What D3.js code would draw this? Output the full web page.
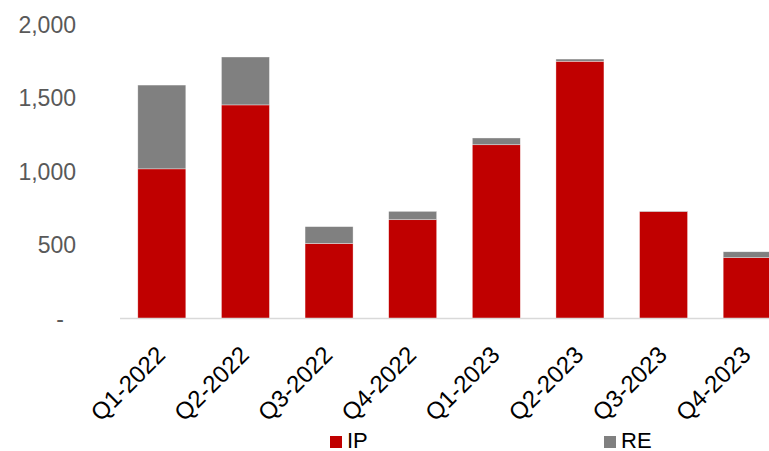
<!DOCTYPE html>
<html><head><meta charset="utf-8">
<script src="https://cdn.jsdelivr.net/npm/d3@7"></script>
<style>
html,body{margin:0;padding:0;background:#fff;overflow:hidden}
svg{display:block}
text{font-family:"Liberation Sans",Arial,sans-serif}
</style></head>
<body>
<svg id="chart" width="769" height="451"></svg>
<script>
const categories = ["Q1-2022","Q2-2022","Q3-2022","Q4-2022","Q1-2023","Q2-2023","Q3-2023","Q4-2023"];
const ipValues = [1018, 1453, 510, 672, 1182, 1750, 728, 414];
const reValues = [570, 326, 115, 57, 46, 15, 3, 40];
const seriesNames = ["IP","RE"];
const seriesColors = ["#C00000","#808080"];
const yTickValues = [0, 500, 1000, 1500, 2000];
const yTickLabels = ["-", "500", "1,000", "1,500", "2,000"];

const svg = d3.select("#chart");
const x = d3.scaleBand().domain(categories).range([120, 789]).paddingInner(0.426).paddingOuter(0.213);
const y = d3.scaleLinear().domain([0, 2000]).range([318.5, 24.5]);

const data = categories.map((c,i)=>({cat:c, IP:ipValues[i], RE:reValues[i]}));
const stack = d3.stack().keys(seriesNames)(data);

svg.append("g").selectAll("g").data(stack).join("g")
  .attr("fill",(d,i)=>seriesColors[i])
  .selectAll("rect").data(d=>d).join("rect")
  .attr("x",d=>x(d.data.cat))
  .attr("width",x.bandwidth())
  .attr("y",d=>y(d[1]))
  .attr("height",d=>y(d[0])-y(d[1]))
  .attr("stroke","#ffffff").attr("stroke-opacity",0.6).attr("stroke-width",0.6);

// x axis line
svg.append("line").attr("x1",120).attr("x2",769).attr("y1",y(0)).attr("y2",y(0))
  .attr("stroke","#d9d9d9").attr("stroke-width",1.5);

// y labels
svg.append("g").selectAll("text").data(yTickValues).join("text")
  .attr("x",(d,i)=>yTickLabels[i]==="-"?64:76)
  .attr("y",d=>y(d))
  .attr("dy","0.35em")
  .attr("text-anchor","end")
  .attr("fill","#595959")
  .attr("font-size",23)
  .text((d,i)=>yTickLabels[i]);

// x labels
svg.append("g").selectAll("text").data(categories).join("text")
  .attr("transform",d=>`translate(${x(d)+x.bandwidth()/2-7},${y(0)+26}) rotate(-45)`)
  .attr("text-anchor","end")
  .attr("dy","0.7em")
  .attr("fill","#000")
  .attr("font-size",24)
  .text(d=>d);

// legend
const legendX = [330, 604];
const lg = svg.append("g").selectAll("g").data(seriesNames).join("g")
  .attr("transform",(d,i)=>`translate(${legendX[i]},436)`);
lg.append("rect").attr("width",12).attr("height",12).attr("fill",(d,i)=>seriesColors[i]);
lg.append("text").attr("x",17).attr("y",12).attr("font-size",22).attr("fill","#000").text(d=>d);
</script>
</body></html>
